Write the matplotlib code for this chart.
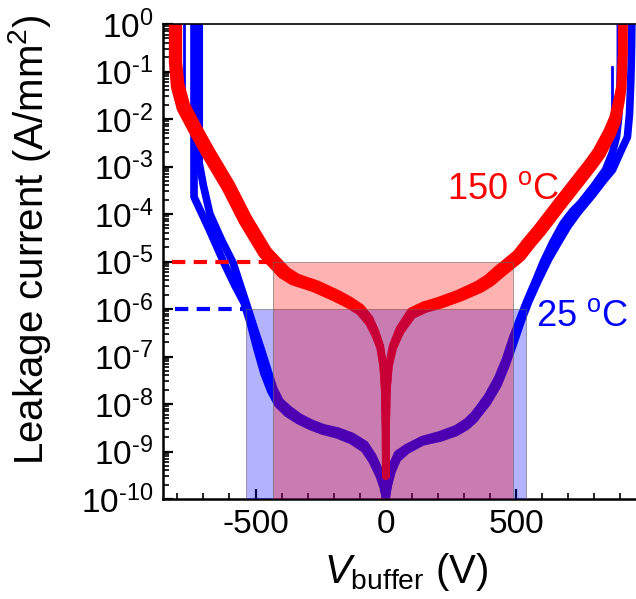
import numpy as np
import matplotlib
matplotlib.use("Agg")
import matplotlib.pyplot as plt
from matplotlib.patches import Rectangle
from matplotlib.ticker import LogLocator, MultipleLocator, FixedLocator, FixedFormatter, NullFormatter

plt.rcParams['font.family'] = ['Liberation Sans', 'DejaVu Sans']
plt.rcParams['mathtext.fontset'] = 'custom'
plt.rcParams['mathtext.rm'] = 'Liberation Sans'
plt.rcParams['mathtext.it'] = 'Liberation Sans:italic'
plt.rcParams['mathtext.bf'] = 'Liberation Sans:bold'

# leakage sweeps at 150 C (V in volts, log10 of current density in A/mm2)
red_a_v = [-796, -796, -788, -766, -720, -670, -593, -528, -452, -421, -378, -337, -262, -180, -134, -96, -62, -40, -21, -10, -4, -1, 0,
           1, 4, 11, 26, 52, 96, 145, 200, 275, 350, 390, 427, 476, 502, 539, 579, 656, 732, 779, 809, 850, 872, 890, 899, 905, 905]
red_a_i = [0, -0.8, -1.25, -1.7, -2.18, -2.67, -3.38, -4.08, -4.77, -4.95, -5.2, -5.34, -5.48, -5.69, -5.83, -5.97, -6.2, -6.47, -6.78, -7.2, -7.7, -8.5, -9.52,
           -8.5, -7.7, -7.2, -6.78, -6.42, -6.05, -5.92, -5.83, -5.68, -5.49, -5.35, -5.17, -4.95, -4.83, -4.57, -4.31, -3.76, -3.23, -2.9, -2.67, -2.25, -1.97, -1.55, -1.3, -0.6, 0]
red_b_v = [-818, -818, -810, -788, -742, -692, -615, -550, -474, -443, -400, -359, -280, -194, -144, -102, -66, -43, -22, -10, -4, -1, 0,
           1, 4, 12, 29, 57, 102, 153, 212, 289, 368, 408, 446, 496, 522, 559, 599, 676, 752, 799, 829, 868, 888, 902, 909, 914, 914]
red_b_i = [0, -0.8, -1.33, -1.78, -2.26, -2.75, -3.46, -4.16, -4.85, -5.03, -5.28, -5.42, -5.56, -5.77, -5.91, -6.05, -6.28, -6.52, -6.81, -7.2, -7.7, -8.5, -9.52,
           -8.5, -7.7, -7.2, -6.81, -6.47, -6.13, -6.0, -5.91, -5.76, -5.57, -5.43, -5.25, -5.03, -4.91, -4.65, -4.39, -3.84, -3.31, -2.98, -2.75, -2.33, -2.05, -1.63, -1.35, -0.6, 0]

# leakage sweeps at 25 C
blue_a_v = [-716, -716, -700, -675, -630, -586, -536, -505, -478, -452, -430, -405, -370, -330, -287, -240, -184, -130, -80, -50, -25, -10, -2, 0,
            2, 10, 25, 45, 80, 140, 207, 270, 310, 340, 390, 430, 460, 487, 515, 540, 575, 605, 640, 680, 715, 747, 800, 843, 870, 885, 893, 898, 900, 900]
blue_a_i = [0, -2.93, -3.4, -4.0, -4.55, -5.03, -5.87, -6.4, -6.85, -7.3, -7.68, -7.95, -8.12, -8.28, -8.4, -8.5, -8.57, -8.68, -8.85, -9.1, -9.4, -9.7, -9.95, -10.2,
            -9.95, -9.65, -9.3, -9.05, -8.92, -8.75, -8.65, -8.52, -8.38, -8.22, -7.85, -7.45, -7.05, -6.6, -6.2, -5.85, -5.4, -5.0, -4.6, -4.2, -3.95, -3.77, -3.4, -3.07, -2.7, -2.38, -2.0, -1.5, -0.8, 0]
blue_b_v = [-736, -736, -680, -621, -580, -544, -520, -494, -468, -442, -415, -378, -335, -290, -242, -186, -132, -82, -52, -26, -10, -2, 0,
            2, 10, 25, 45, 80, 140, 207, 270, 310, 340, 390, 430, 460, 492, 520, 548, 585, 625, 662, 700, 740, 793, 835, 870, 900, 927, 935, 940, 943, 944]
blue_b_i = [0, -3.64, -4.3, -5.03, -5.5, -5.87, -6.3, -6.85, -7.35, -7.72, -8.0, -8.2, -8.35, -8.47, -8.57, -8.65, -8.77, -8.95, -9.2, -9.5, -9.75, -9.95, -10.2,
            -9.95, -9.7, -9.4, -9.15, -8.98, -8.8, -8.72, -8.6, -8.47, -8.32, -7.97, -7.6, -7.2, -6.7, -6.25, -5.85, -5.4, -4.95, -4.6, -4.25, -3.95, -3.6, -3.3, -3.07, -2.7, -2.38, -1.9, -1.2, -0.5, 0]

# breakdown jumps near the sweep ends
jump_v = [[-774, -774], [866, 866]]
jump_i = [[0, -1.75], [-0.9, -2.1]]

# current limits and the voltage windows they give
limit_hot = 1e-5
window_hot = [-433, 487]
limit_room = 1e-6
window_room = [-536, 536]
dash_start = [-820, -808]

decades = list(range(-10, 1))
x_major = [-500, 0, 500]

fig = plt.figure(figsize=(6.36, 5.99), dpi=100)
ax = fig.add_axes([163 / 636, 100 / 599, 473 / 636, 475 / 599])

lw = 5.5
for v, i in [(blue_b_v, blue_b_i), (blue_a_v, blue_a_i)]:
    ax.plot(v, 10.0 ** np.array(i), color='#0000ff', lw=lw, solid_joinstyle='round', zorder=2)
for v, i in zip(jump_v, jump_i):
    ax.plot(v, 10.0 ** np.array(i), color='#0000ff', lw=2, zorder=2)
for v, i in [(red_b_v, red_b_i), (red_a_v, red_a_i)]:
    ax.plot(v, 10.0 ** np.array(i), color='#ff0000', lw=lw, solid_joinstyle='round', zorder=2.1)

ylo = 10.0 ** decades[0]
ax.add_patch(Rectangle((window_room[0], ylo), window_room[1] - window_room[0], limit_room - ylo,
                       facecolor=(0, 0, 1, 0.3), edgecolor=(0.4, 0.4, 0.4, 0.6), lw=0.7, zorder=3))
ax.add_patch(Rectangle((window_hot[0], ylo), window_hot[1] - window_hot[0], limit_hot - ylo,
                       facecolor=(1, 0, 0, 0.3), edgecolor=(0.4, 0.4, 0.4, 0.6), lw=0.7, zorder=3.1))

ax.plot([dash_start[0], window_hot[0]], [limit_hot, limit_hot], color='#ff0000', lw=3,
        linestyle=(0, (3.2, 2)), zorder=4)
ax.plot([dash_start[1], window_room[0]], [limit_room, limit_room], color='#0000ff', lw=3,
        linestyle=(0, (3.2, 2)), zorder=4)

ax.text(449, 10 ** -3.49, '150 $^{\\rm o}$C', color='#ff0000', fontsize=26, ha='center', va='center', zorder=5)
ax.text(752, 10 ** -6.15, '25 $^{\\rm o}$C', color='#0000ff', fontsize=26, ha='center', va='center', zorder=5)

ax.set_yscale('log')
ax.set_xlim(-855, 960)
ax.set_ylim(10.0 ** decades[0], 10.0 ** decades[-1])

ax.yaxis.set_major_locator(FixedLocator([10.0 ** d for d in decades]))
ax.yaxis.set_major_formatter(FixedFormatter(['$10^{\\text{-}%d}$' % -d if d < 0 else '$10^{%d}$' % d for d in decades]))
ax.yaxis.set_minor_locator(LogLocator(base=10, subs=np.arange(2, 10), numticks=30))
ax.yaxis.set_minor_formatter(NullFormatter())
ax.xaxis.set_major_locator(FixedLocator(x_major))
ax.xaxis.set_major_formatter(FixedFormatter(['-500', '0', '500']))
ax.xaxis.set_minor_locator(MultipleLocator(100))

ax.tick_params(which='both', direction='in', top=False, right=False, labelsize=24)
ax.tick_params(which='major', length=7, width=1.6, pad=7)
ax.tick_params(which='minor', length=4, width=1.2)

for s in ['left', 'bottom']:
    ax.spines[s].set_linewidth(1.8)
ax.spines['top'].set_linewidth(1.2)
ax.spines['right'].set_visible(False)

ax.set_ylabel('Leakage current (A/mm$^2$)', fontsize=29)
ax.yaxis.set_label_coords(-0.233, 0.545)
ax.set_xlabel('$\\mathit{V}_{\\rm buffer}$ (V)', fontsize=29)
ax.xaxis.set_label_coords(0.514, -0.109)

fig.savefig('out.png', dpi=100)
